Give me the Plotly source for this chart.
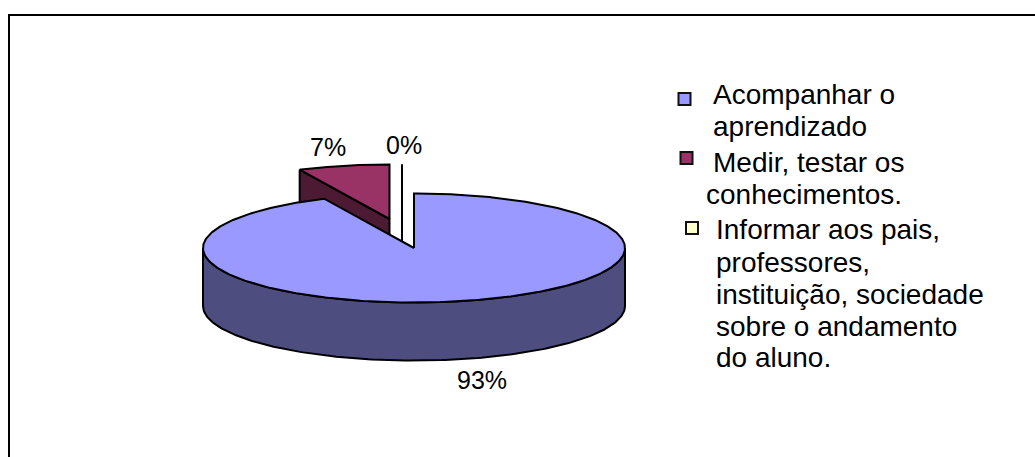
import numpy as np
import plotly.graph_objects as go

# Survey answers and their percentage shares
categories = [
    "Acompanhar o aprendizado",
    "Medir, testar os conhecimentos.",
    "Informar aos pais, professores, instituição, sociedade sobre o andamento do aluno.",
]
values = [93, 7, 0]

# Legend text broken into the lines it is set in
legend_lines = [
    ["Acompanhar o", "aprendizado"],
    ["Medir, testar os", "conhecimentos."],
    ["Informar aos pais,", "professores,", "instituição, sociedade", "sobre o andamento", "do aluno."],
]

# Slice styling
top_colors = ["#9999FF", "#993366", "#FFFFCC"]
side_colors = ["#4D4D80", "#4D1A33", "#808066"]

# Pseudo-3D pie geometry, in pixels
W, H = 1035, 457
CX, CY = 414.0, 248.0
RX, RY = 211.0, 54.5
DEPTH = 58.0
EXPLODE = [(0.0, 0.0), (-24.5, -29.0), (-12.0, -29.0)]
EDGE = dict(color="#000000", width=2)
FONT = "Liberation Sans, Arial, sans-serif"
LEGEND_SIZE = 28
PCT_SIZE = 25


def rim(cx, cy, start, end, n=180):
    """Points of the elliptical rim, angles clockwise from 12 o'clock in degrees."""
    t = np.radians(np.linspace(start, end, n))
    return cx + RX * np.sin(t), cy - RY * np.cos(t)


fig = go.Figure()


def polygon(x, y, fill):
    fig.add_trace(go.Scatter(
        x=list(x), y=list(y), mode="lines", fill="toself", fillcolor=fill,
        line=EDGE, hoverinfo="skip", showlegend=False,
    ))


# Angular extent of each slice, clockwise from 12 o'clock; the first slice starts there
spans = []
angle = 0.0
for v in values:
    sweep = v / sum(values) * 360.0
    spans.append((angle, angle + sweep))
    angle += sweep

# Outer wall of the large slice (front half of the rim only)
a0, a1 = spans[0]
xs, ys = rim(CX, CY, max(a0, 90), min(a1, 270))
polygon(np.r_[xs, xs[::-1], xs[0]], np.r_[ys, ys[::-1] + DEPTH, ys[0]], side_colors[0])

# Pulled-out slices: the cut wall first, then the top face
for i in (1, 2):
    dx, dy = EXPLODE[i]
    a0, a1 = spans[i]
    cx, cy = CX + dx, CY + dy
    xs, ys = rim(cx, cy, a0, a1)
    polygon(
        [xs[0], cx, cx, xs[0], xs[0]],
        [ys[0], cy, cy + DEPTH, ys[0] + DEPTH, ys[0]],
        side_colors[i],
    )
    polygon(np.r_[cx, xs, cx], np.r_[cy, ys, cy], top_colors[i])

# Top face of the large slice goes last so it overlaps the others
a0, a1 = spans[0]
xs, ys = rim(CX, CY, a0, a1, n=400)
polygon(np.r_[CX, xs, CX], np.r_[CY, ys, CY], top_colors[0])

# Legend swatches
swatch_x = [684.5, 686.5, 692]
swatch_y = [99, 158, 228]
fig.add_trace(go.Scatter(
    x=swatch_x, y=swatch_y, mode="markers",
    marker=dict(symbol="square", size=12, color=top_colors,
                line=dict(color="#111111", width=2)),
    hoverinfo="skip", showlegend=False,
))

annotations = []


def label(x, y, text, size):
    annotations.append(dict(
        x=x, y=y, xref="x", yref="y", text=text, showarrow=False,
        xanchor="left", yanchor="middle",
        font=dict(family=FONT, size=size, color="#000000"),
        borderpad=0,
    ))


# Legend text, line by line
line_x = [[712, 712], [712, 705], [715, 715, 715, 715, 715]]
line_y = [[94, 126], [162, 194], [229, 262, 294, 326, 357]]
for lines, lx, ly in zip(legend_lines, line_x, line_y):
    for text, x, y in zip(lines, lx, ly):
        label(x, y, text, LEGEND_SIZE)

# Percentage labels
pct_x = [456, 309, 385]
pct_y = [380, 147, 145]
for v, x, y in zip(values, pct_x, pct_y):
    label(x, y, f"{v}%", PCT_SIZE)

fig.update_layout(
    width=W, height=H,
    margin=dict(l=0, r=0, t=0, b=0),
    paper_bgcolor="#FFFFFF", plot_bgcolor="#FFFFFF",
    xaxis=dict(range=[0, W], visible=False, fixedrange=True),
    yaxis=dict(range=[H, 0], visible=False, fixedrange=True),
    annotations=annotations,
    shapes=[dict(
        type="rect", xref="x", yref="y", x0=9, y0=15, x1=W + 20, y1=H + 20,
        line=dict(color="#000000", width=2), layer="below",
    )],
)

fig.write_html("out.html", config=dict(displayModeBar=False))
